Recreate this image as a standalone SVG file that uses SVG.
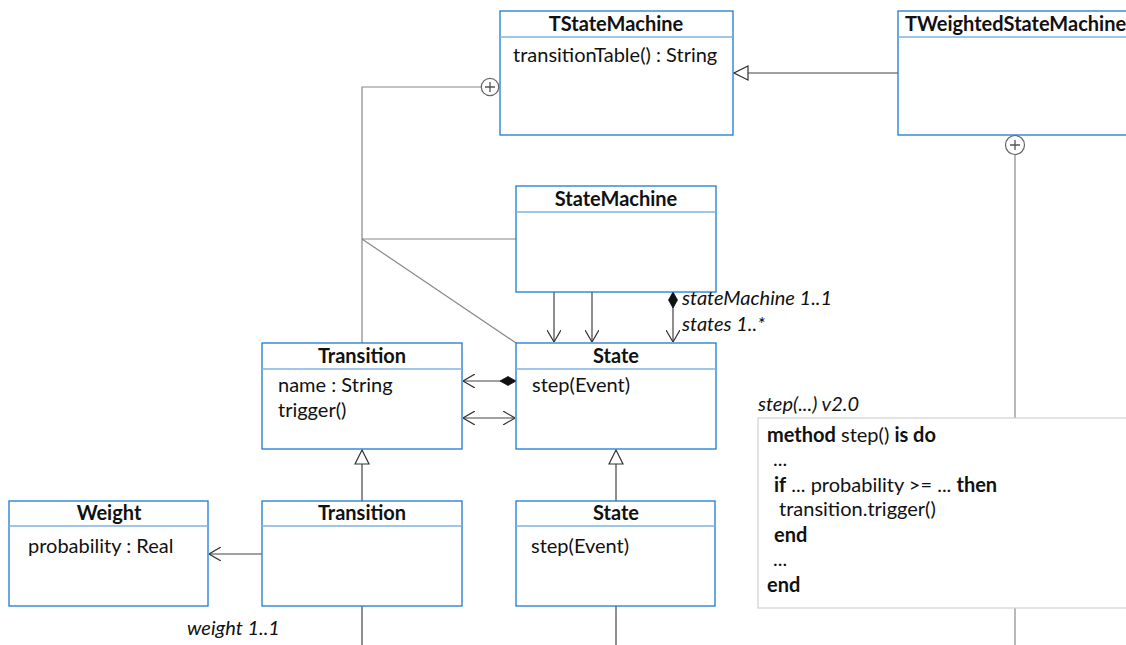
<svg xmlns="http://www.w3.org/2000/svg" width="1126" height="645" viewBox="0 0 1126 645">
  <style>
    text { font-family: Lato, "Liberation Sans", sans-serif; font-size: 20px; fill: #111; }
    .title { font-weight: bold; text-anchor: middle; }
    .b { font-weight: bold; }
    .it { font-style: italic; }
    .box { fill: #fff; stroke: #1a7ad0; stroke-width: 1.3; }
    .div { stroke: #7fb2e0; stroke-width: 1.5; }
    .ln { fill: none; stroke: #444; stroke-width: 1.2; }
    .gl { fill: none; stroke: #888; stroke-width: 1.2; }
    .code { fill: #fff; stroke: #d0d0d0; stroke-width: 1.2; }
  </style>
  <defs>
    <marker id="open" viewBox="0 0 12 14" refX="12" refY="7" markerWidth="12" markerHeight="14" markerUnits="userSpaceOnUse" orient="auto-start-reverse">
      <path d="M0,0 L12,7 L0,14" fill="none" stroke="#333" stroke-width="1.2"/>
    </marker>
    <marker id="gen" viewBox="0 0 16 16" refX="15" refY="8" markerWidth="16" markerHeight="16" markerUnits="userSpaceOnUse" orient="auto">
      <path d="M1,1 L15,8 L1,15 Z" fill="#fff" stroke="#333" stroke-width="1.2"/>
    </marker>
    <marker id="diamond" viewBox="0 0 16 10" refX="0" refY="5" markerWidth="16" markerHeight="10" markerUnits="userSpaceOnUse" orient="auto">
      <path d="M0,5 L8,0.5 L16,5 L8,9.5 Z" fill="#111" stroke="#111" stroke-width="0.8"/>
    </marker>
  </defs>

  <!-- connectors -->
  <g id="connectors">
    <!-- nesting from TStateMachine -->
    <path class="gl" d="M481,87 H362 V343"/>
    <circle cx="490" cy="87" r="8.7" fill="#fff" stroke="#666" stroke-width="1.2"/>
    <path d="M485,87 H495 M490,82 V92" stroke="#555" stroke-width="1.3"/>
    <path class="gl" d="M362,239 H516"/>
    <path class="gl" d="M362,239 L516,343"/>
    <!-- nesting from TWeightedStateMachine -->
    <path class="gl" d="M1015,155 V645"/>
    <circle cx="1015" cy="145" r="9.5" fill="#fff" stroke="#666" stroke-width="1.2"/>
    <path d="M1010,145 H1020 M1015,140 V150" stroke="#555" stroke-width="1.3"/>
    <!-- generalization TWeightedStateMachine -> TStateMachine -->
    <path class="ln" d="M898,73 H734" marker-end="url(#gen)"/>
    <!-- StateMachine -> State associations -->
    <path class="ln" d="M554,292 V342" marker-end="url(#open)"/>
    <path class="ln" d="M592,292 V342" marker-end="url(#open)"/>
    <path class="ln" d="M673,292 V342" marker-start="url(#diamond)" marker-end="url(#open)"/>
    <!-- State -> Transition -->
    <path class="ln" d="M516,381 H463" marker-start="url(#diamond)" marker-end="url(#open)"/>
    <path class="ln" d="M463,418 H515" marker-start="url(#open)" marker-end="url(#open)"/>
    <!-- generalizations -->
    <path class="ln" d="M362,501 V450" marker-end="url(#gen)"/>
    <path class="ln" d="M616,501 V450" marker-end="url(#gen)"/>
    <!-- Transition -> Weight -->
    <path class="ln" d="M262,554 H209" marker-end="url(#open)"/>
    <!-- continuing lines -->
    <path class="ln" d="M362,606 V645"/>
    <path class="ln" d="M616,606 V645"/>
  </g>

  <g id="TStateMachine">
    <rect class="box" x="500" y="11" width="233" height="124"/>
    <line class="div" x1="500" y1="37" x2="733" y2="37"/>
    <text class="title" x="616" y="31">TStateMachine</text>
    <text x="513" y="62">transitionTable() : String</text>
  </g>

  <g id="TWeightedStateMachine">
    <rect class="box" x="898" y="11" width="240" height="124"/>
    <line class="div" x1="898" y1="37" x2="1126" y2="37"/>
    <text class="b" x="905" y="31">TWeightedStateMachine</text>
  </g>

  <g id="StateMachine">
    <rect class="box" x="516" y="186" width="200" height="106"/>
    <line class="div" x1="516" y1="212" x2="716" y2="212"/>
    <text class="title" x="616" y="206">StateMachine</text>
  </g>

  <g id="labels-sm">
    <text class="it" x="682" y="305">stateMachine 1..1</text>
    <text class="it" x="682" y="331">states 1..*</text>
  </g>

  <g id="Transition">
    <rect class="box" x="262" y="343" width="200" height="106"/>
    <line class="div" x1="262" y1="369" x2="462" y2="369"/>
    <text class="title" x="362" y="363">Transition</text>
    <text x="278" y="392">name : String</text>
    <text x="278" y="417">trigger()</text>
  </g>

  <g id="State">
    <rect class="box" x="516" y="343" width="200" height="106"/>
    <line class="div" x1="516" y1="369" x2="716" y2="369"/>
    <text class="title" x="616" y="363">State</text>
    <text x="532" y="392">step(Event)</text>
  </g>

  <g id="Weight">
    <rect class="box" x="9" y="501" width="199" height="105"/>
    <line class="div" x1="9" y1="526" x2="208" y2="526"/>
    <text class="title" x="109" y="520">Weight</text>
    <text x="28" y="553">probability : Real</text>
  </g>

  <g id="Transition2">
    <rect class="box" x="262" y="501" width="200" height="105"/>
    <line class="div" x1="262" y1="526" x2="462" y2="526"/>
    <text class="title" x="362" y="520">Transition</text>
  </g>

  <g id="State2">
    <rect class="box" x="516" y="501" width="199" height="105"/>
    <line class="div" x1="516" y1="526" x2="715" y2="526"/>
    <text class="title" x="616" y="520">State</text>
    <text x="531" y="553">step(Event)</text>
  </g>

  <text class="it" x="187" y="635">weight 1..1</text>

  <g id="step-code">
    <text class="it" x="758" y="411">step(...) v2.0</text>
    <rect class="code" x="758" y="418" width="380" height="190"/>
    <text x="767" y="442"><tspan class="b">method</tspan> step() <tspan class="b">is do</tspan></text>
    <text x="773" y="466">...</text>
    <text x="774" y="492"><tspan class="b">if</tspan> ... probability &gt;= ... <tspan class="b">then</tspan></text>
    <text x="779" y="516">transition.trigger()</text>
    <text class="b" x="774" y="542">end</text>
    <text x="773" y="566">...</text>
    <text class="b" x="767" y="592">end</text>
  </g>
</svg>
